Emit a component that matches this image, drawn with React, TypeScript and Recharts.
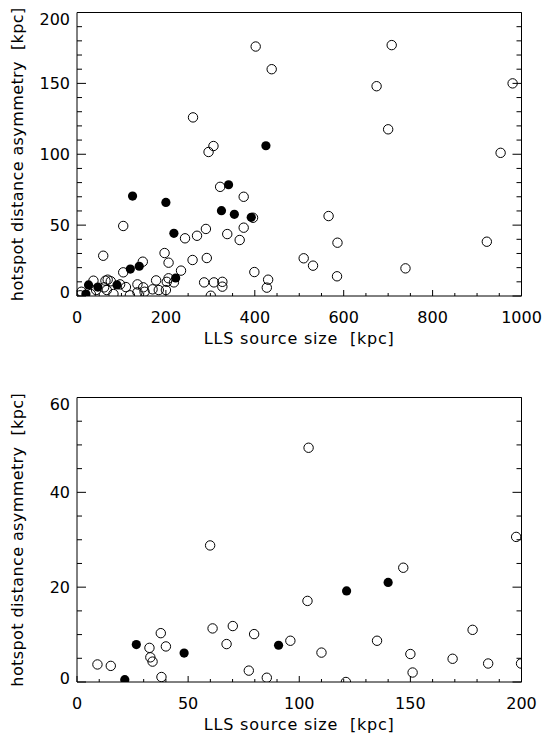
import { ScatterChart, Scatter, XAxis, YAxis } from "recharts";

// LLS source size [kpc] vs hotspot distance asymmetry [kpc]
const topOpen: [number, number][] = [
  [402, 176], [438, 160], [261, 126], [307, 105.8], [296, 101.6],
  [708, 177], [674, 148], [980, 150], [700, 117.6], [953, 101],
  [566, 56.4], [586, 37.6], [510, 26.6], [531, 21.4], [585, 13.9],
  [739, 19.5], [922, 38.3], [322, 77], [375, 70], [396, 55.2],
  [375, 48.2], [338, 43.7], [366, 39.5], [290, 47.3], [270, 42.5],
  [243, 40.7], [104, 49.4], [59, 28.4], [197, 30.3], [206, 23.5],
  [148, 24.2], [104, 16.7], [260, 25.4], [292, 26.8], [234, 17.9],
  [399, 16.9], [430, 11.5], [427, 5.9], [286, 9.6], [308, 9.6],
  [327, 10], [327, 6.6], [301, 0.2], [206, 12.5], [202, 10],
  [218, 9.6], [178, 11], [184, 4.2], [200, 4.2], [170, 4.7],
  [149, 6.1], [152, 3], [136, 8.2], [136, 2.6], [119, 0.5],
  [110, 6.3], [97, 8.2], [82, 1.4], [76, 10.4], [64, 10.8],
  [69, 11.5], [37, 10.8], [61, 6.1], [43, 4.2], [10, 3],
  [7, 0.5], [31, 1.4], [67, 4.2],
];

const topFilled: [number, number][] = [
  [20, 1.4], [26, 7.8], [47, 6.3], [90, 7.8], [120, 19],
  [125, 70.5], [140, 21], [200, 66], [218, 44.2], [222, 12.7],
  [325, 60.2], [341, 78.5], [354, 57.6], [392, 55.5], [425, 106],
];

const bottomOpen: [number, number][] = [
  [9.2, 3.7], [15.2, 3.4], [32.6, 7.2], [33, 5.2], [34, 4.3],
  [37.7, 10.3], [40, 7.5], [38, 1.05], [59.9, 28.8], [61, 11.3],
  [67.3, 8.0], [70.1, 11.8], [77.3, 2.4], [79.7, 10.1], [85.4, 0.9],
  [96, 8.7], [103.7, 17.1], [104.2, 49.4], [110, 6.2], [121, 0],
  [135, 8.7], [146.8, 24.1], [150, 5.9], [151, 2], [169, 4.9],
  [178, 11], [185, 3.9], [199.8, 3.9], [197.6, 30.6],
];

const bottomFilled: [number, number][] = [
  [21.5, 0.5], [26.7, 7.9], [48.2, 6.1], [90.7, 7.75], [121.3, 19.2], [140, 21],
];

const topXMajor = [0, 200, 400, 600, 800, 1000];
const topXMinor = [0, 50, 100, 150, 200, 250, 300, 350, 400, 450, 500, 550, 600, 650, 700, 750, 800, 850, 900, 950, 1000];
const topYMajor = [0, 50, 100, 150, 200];
const topYMinor = [0, 10, 20, 30, 40, 50, 60, 70, 80, 90, 100, 110, 120, 130, 140, 150, 160, 170, 180, 190, 200];

const botXMajor = [0, 50, 100, 150, 200];
const botXMinor = [0, 10, 20, 30, 40, 50, 60, 70, 80, 90, 100, 110, 120, 130, 140, 150, 160, 170, 180, 190, 200];
const botYMajor = [0, 20, 40, 60];
const botYMinor = [0, 5, 10, 15, 20, 25, 30, 35, 40, 45, 50, 55, 60];

const X_TITLE = "LLS source size  [kpc]";
const Y_TITLE = "hotspot distance asymmetry  [kpc]";

const FONT = "'DejaVu Sans', sans-serif";
const INK = "#000";

const toPts = (arr: [number, number][]) => arr.map(([x, y]) => ({ x, y }));

const OpenDot = (p: any) => (
  <circle cx={p.cx} cy={p.cy} r={4.7} fill="none" stroke={INK} strokeWidth={1} />
);
const FilledDot = (p: any) => <circle cx={p.cx} cy={p.cy} r={4.6} fill={INK} />;

function Panel({ open, filled, xMajor, xMinor, yMajor, yMinor, height, top, bottomH }: any) {
  const xMax = xMajor[xMajor.length - 1];
  const yMax = yMajor[yMajor.length - 1];

  const bottomTick = ({ x, y, payload }: any) => {
    const major = xMajor.includes(payload.value);
    return (
      <g>
        <line x1={x} y1={y} x2={x} y2={y - (major ? 6 : 3)} stroke={INK} />
        {major && (
          <text x={x} y={y + 26.5} textAnchor="middle" fontSize={16} fontFamily={FONT} fill={INK}>
            {payload.value}
          </text>
        )}
      </g>
    );
  };
  const topTick = ({ x, y, payload }: any) => {
    const major = xMajor.includes(payload.value);
    return <line x1={x} y1={y} x2={x} y2={y + (major ? 6 : 3)} stroke={INK} />;
  };
  const leftTick = ({ x, y, payload }: any) => {
    const major = yMajor.includes(payload.value);
    let shift = 0;
    if (payload.value === yMax) shift = 7;
    if (payload.value === 0) shift = -3.5;
    return (
      <g>
        <line x1={x} y1={y} x2={x + (major ? 9 : 5)} y2={y} stroke={INK} />
        {major && (
          <text x={x - 7} y={y + shift} dy="0.36em" textAnchor="end" fontSize={16} fontFamily={FONT} fill={INK}>
            {payload.value}
          </text>
        )}
      </g>
    );
  };
  const rightTick = ({ x, y, payload }: any) => {
    const major = yMajor.includes(payload.value);
    return <line x1={x} y1={y} x2={x - (major ? 9 : 5)} y2={y} stroke={INK} />;
  };

  const xTitle = (p: any) => {
    const vb = p.viewBox;
    return (
      <text x={vb.x + vb.width / 2} y={vb.y + 47.5} textAnchor="middle" fontSize={16}
        fontFamily={FONT} fill={INK} letterSpacing={0.8} style={{ whiteSpace: "pre" }}>
        {X_TITLE}
      </text>
    );
  };
  const yTitle = (p: any) => {
    const vb = p.viewBox;
    const cx = vb.x + 17;
    const cy = vb.y + vb.height / 2;
    return (
      <text x={cx} y={cy} transform={`rotate(-90 ${cx} ${cy})`} textAnchor="middle"
        dominantBaseline="central" fontSize={16} fontFamily={FONT} fill={INK}
        letterSpacing={0.4} style={{ whiteSpace: "pre" }}>
        {Y_TITLE}
      </text>
    );
  };

  return (
    <ScatterChart width={544} height={height} margin={{ top, right: 22.5, bottom: 0, left: 0 }}>
      <XAxis type="number" dataKey="x" domain={[0, xMax]} ticks={xMinor} interval={0}
        allowDataOverflow height={bottomH} tickSize={0} tickMargin={0} tickLine={false}
        axisLine={{ stroke: INK }} tick={bottomTick} label={xTitle} />
      <XAxis xAxisId="top" orientation="top" mirror type="number" domain={[0, xMax]}
        ticks={xMinor} interval={0} allowDataOverflow tickSize={0} tickMargin={0}
        tickLine={false} axisLine={{ stroke: INK }} tick={topTick} />
      <YAxis type="number" dataKey="y" domain={[0, yMax]} ticks={yMinor} interval={0}
        allowDataOverflow width={77} tickSize={0} tickMargin={0} tickLine={false}
        axisLine={{ stroke: INK }} tick={leftTick} label={yTitle} />
      <YAxis yAxisId="right" orientation="right" mirror type="number" domain={[0, yMax]}
        ticks={yMinor} interval={0} allowDataOverflow tickSize={0} tickMargin={0}
        tickLine={false} axisLine={{ stroke: INK }} tick={rightTick} />
      <Scatter data={toPts(open)} shape={OpenDot} isAnimationActive={false} />
      <Scatter data={toPts(filled)} shape={FilledDot} isAnimationActive={false} />
    </ScatterChart>
  );
}

export default function App() {
  return (
    <div style={{ position: "absolute", left: 0, top: 0, width: 544, height: 734, background: "#fff" }}>
      <Panel open={topOpen} filled={topFilled} xMajor={topXMajor} xMinor={topXMinor}
        yMajor={topYMajor} yMinor={topYMinor} height={367} top={12.5} bottomH={71} />
      <Panel open={bottomOpen} filled={bottomFilled} xMajor={botXMajor} xMinor={botXMinor}
        yMajor={botYMajor} yMinor={botYMinor} height={367} top={30.5} bottomH={52} />
    </div>
  );
}
